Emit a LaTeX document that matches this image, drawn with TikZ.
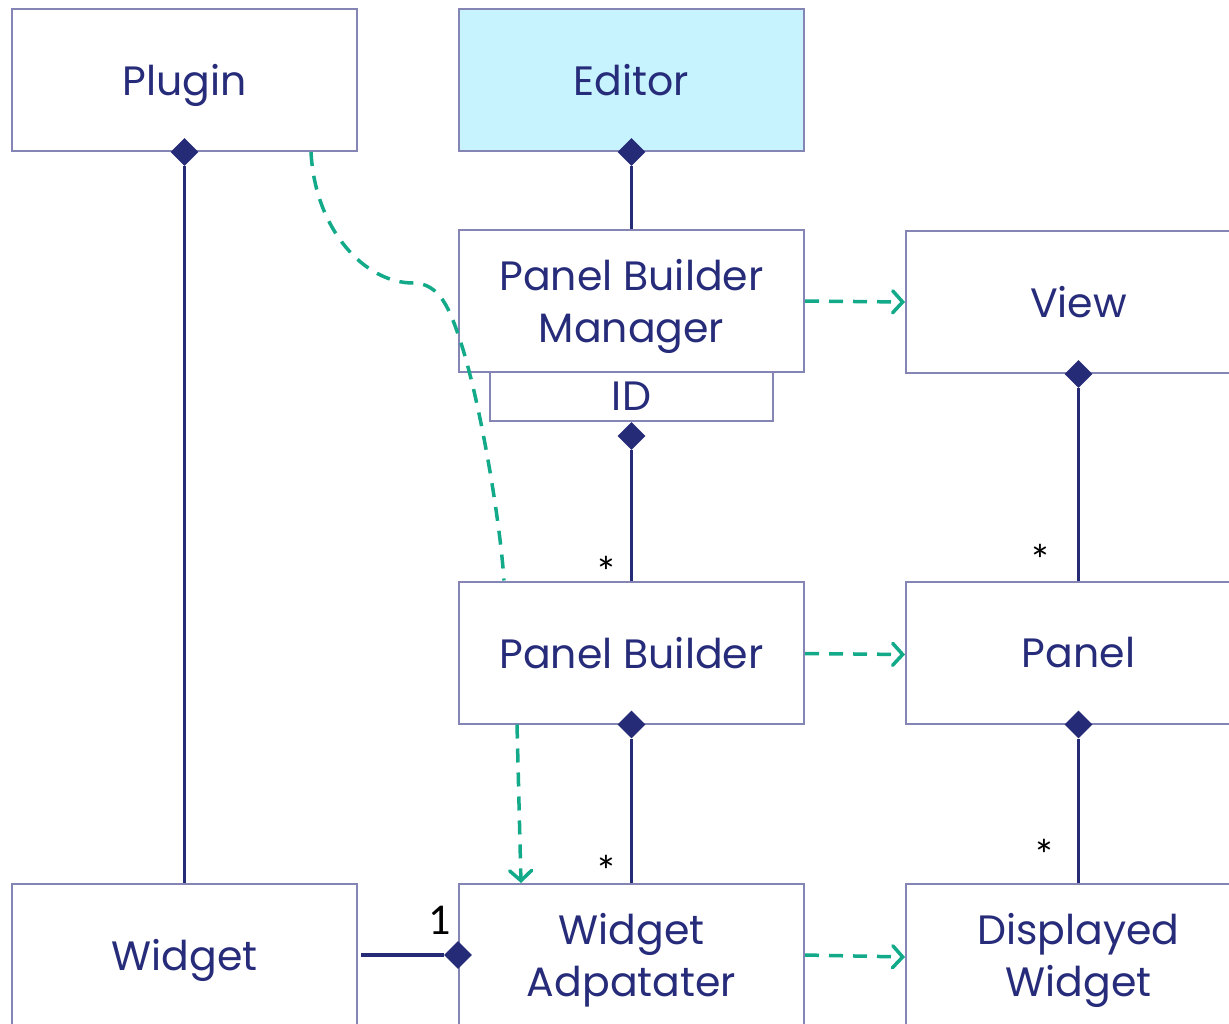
\documentclass[tikz,border=0pt]{standalone}
\usepackage{fontspec}
\setmainfont{Poppins}
\newfontfamily\numfont{Carlito}
\usetikzlibrary{arrows.meta,shapes.geometric,calc}
\definecolor{txt}{HTML}{262B7A}
\definecolor{bord}{HTML}{8585B5}
\definecolor{navy}{HTML}{262B78}
\definecolor{grn}{HTML}{13AA8A}
\definecolor{cyanfill}{HTML}{C6F3FD}
\begin{document}
\begin{tikzpicture}[x=1pt,y=-1pt,
  box/.style={draw=bord,line width=2pt,minimum width=345pt,minimum height=142pt,inner sep=0pt,
    text=txt,font=\fontsize{41}{52}\selectfont,align=center,text depth=0pt},
  dia/.style={diamond,fill=navy,draw=none,minimum width=28pt,minimum height=28pt,inner sep=0pt},
  comp/.style={navy,line width=3.5pt},
  dep/.style={grn,line width=3.5pt,dash pattern=on 14pt off 10pt,-{Straight Barb[length=10pt,width=22pt,line cap=round]}},
  mult/.style={text=black,font=\numfont\fontsize{44}{44}\selectfont,inner sep=0pt},
]
\useasboundingbox (0,0) rectangle (1229,1023);
\clip (0,0) rectangle (1229,1023);
\fill[white] (0,0) rectangle (1229,1023);
\node[box] (Plugin) at (184.5,80) {Plugin};
\node[box,fill=cyanfill] (Editor) at (631.5,80) {Editor};
\node[box] (PBM) at (631.5,301) {Panel Builder\\Manager};
\node[box,minimum width=283pt,minimum height=49pt] (ID) at (631.5,396.5) {ID};
\node[box] (View) at (1078.5,302) {View};
\node[box] (PB) at (631.5,652.5) {Panel Builder};
\node[box] (Panel) at (1078.5,652.5) {Panel};
\node[box] (Widget) at (184.5,955) {Widget};
\node[box] (WA) at (631.5,955) {Widget\\Adpatater};
\node[box] (DW) at (1078.5,955) {Displayed\\Widget};
% diamonds
\node[dia] (d1) at (Plugin.south) {};
\node[dia] (d2) at (Editor.south) {};
\node[dia] (d3) at (631.5,436) {};
\node[dia] (d4) at (View.south) {};
\node[dia] (d5) at (PB.south) {};
\node[dia] (d6) at (Panel.south) {};
\node[dia] (d7) at (WA.west) {};
% composition lines
\draw[comp] (d1.south) -- (Widget.north);
\draw[comp] (d2.south) -- (PBM.north);
\draw[comp] (d3.south) -- (PB.north);
\draw[comp] (d4.south) -- (Panel.north);
\draw[comp] (d5.south) -- (WA.north);
\draw[comp] (d6.south) -- (DW.north);
\draw[comp] ($(Widget.east)+(3,0)$) -- (d7.west);
% multiplicities
\node[mult] (m1) at (606,572) {*};
\node[mult] (m2) at (1040,560) {*};
\node[mult] (m3) at (606,871) {*};
\node[mult] (m4) at (1044,855) {*};
\node[mult] (m5) at (440,920) {1};
% dependencies
\draw[dep] (PBM.east) -- (View.west);
\draw[dep] ($(PB.east)+(0,1)$) -- ($(Panel.west)+(0,2)$);
\draw[dep] (WA.east) -- ($(DW.west)+(0,2)$);
\draw[dep] ($(PB.south west)+(59,0)$) -- ($(WA.north west)+(63,0)$);
\coordinate (ps) at ($(Plugin.south west)+(300,0)$);
\coordinate (pe) at ($(PB.north west)+(46,0)$);
\draw[grn,line width=3.5pt,dash pattern=on 14pt off 10pt]
  (ps) .. controls (315,230) and (365,283) .. (413,283)
  .. controls (440,283) and (450,310) .. (460,340)
  .. controls (480,400) and (500,520) .. (pe);
\end{tikzpicture}
\end{document}
